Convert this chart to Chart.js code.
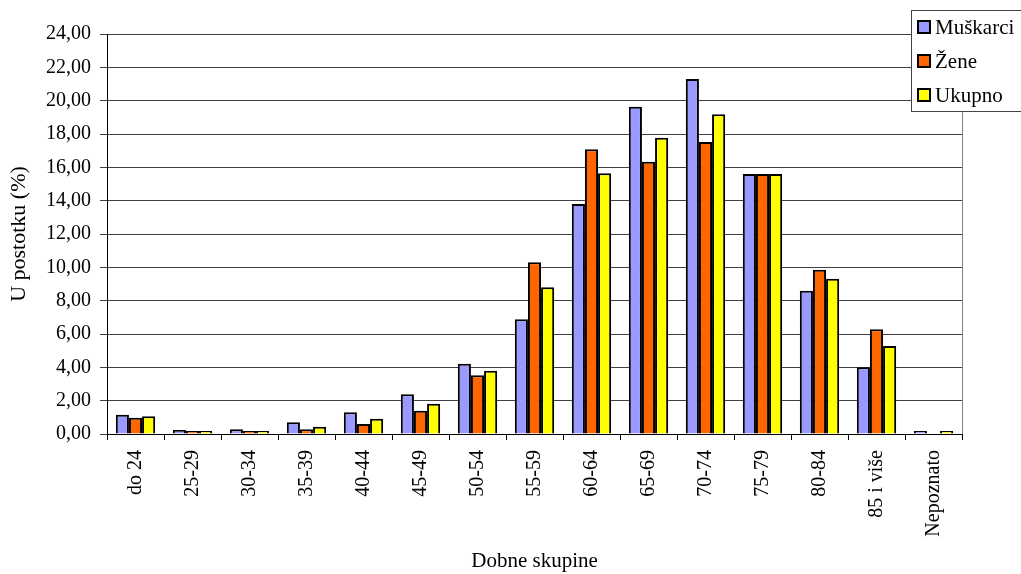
<!DOCTYPE html>
<html lang="hr">
<head>
<meta charset="UTF-8">
<title>Dobne skupine</title>
<script src="https://cdn.jsdelivr.net/npm/chart.js@4/dist/chart.umd.min.js"></script>
<style>
  html, body { margin: 0; padding: 0; background: #fff; }
  .box { position: relative; width: 1021px; height: 574px; }
</style>
</head>
<body>
<div class="box"><canvas id="c" width="1021" height="574"></canvas></div>
<script>
// Podaci (u postotku)
const categories = ['do 24', '25-29', '30-34', '35-39', '40-44', '45-49', '50-54', '55-59',
                    '60-64', '65-69', '70-74', '75-79', '80-84', '85 i više', 'Nepoznato'];
const muskarci = [1.16, 0.24, 0.28, 0.70, 1.30, 2.38, 4.22, 6.88, 13.80, 19.64, 21.30, 15.60, 8.60, 4.00, 0.08];
const zene     = [0.98, 0.12, 0.08, 0.28, 0.60, 1.40, 3.52, 10.30, 17.08, 16.34, 17.52, 15.60, 9.86, 6.28, null];
const ukupno   = [1.06, 0.18, 0.15, 0.44, 0.92, 1.82, 3.80, 8.80, 15.64, 17.78, 19.18, 15.60, 9.32, 5.28, 0.06];
const yTicks   = [0, 2, 4, 6, 8, 10, 12, 14, 16, 18, 20, 22, 24];

const FONT = "'Liberation Serif', 'Times New Roman', serif";

const legendBox = {
  id: 'legendBox',
  afterDraw(chart) {
    const ctx = chart.ctx;
    const a = chart.chartArea;
    ctx.save();
    // desni rub podrucja crtanja
    ctx.strokeStyle = '#808080';
    ctx.lineWidth = 1;
    ctx.beginPath();
    ctx.moveTo(a.right + 0.5, a.top);
    ctx.lineTo(a.right + 0.5, a.bottom);
    ctx.stroke();
    // legenda
    ctx.fillStyle = '#fff';
    ctx.fillRect(911, 10, 112, 101);
    ctx.strokeStyle = '#444';
    ctx.strokeRect(911.5, 10.5, 112, 101);
    chart.data.datasets.forEach((ds, i) => {
      const y = 27 + i * 34;
      ctx.fillStyle = ds.backgroundColor;
      ctx.fillRect(918, y - 6, 12, 12);
      ctx.strokeStyle = '#000';
      ctx.lineWidth = 2;
      ctx.strokeRect(918, y - 6, 12, 12);
      ctx.fillStyle = '#000';
      ctx.font = '21px ' + FONT;
      ctx.textBaseline = 'middle';
      ctx.fillText(ds.label, 935, y + 1);
    });
    ctx.restore();
  }
};

new Chart(document.getElementById('c'), {
  type: 'bar',
  plugins: [legendBox],
  data: {
    labels: categories,
    datasets: [
      { label: 'Muškarci', data: muskarci, backgroundColor: '#9999FF', borderColor: '#000', borderWidth: 2 },
      { label: 'Žene',     data: zene,     backgroundColor: '#FF6600', borderColor: '#000', borderWidth: 2 },
      { label: 'Ukupno',   data: ukupno,   backgroundColor: '#FFFF00', borderColor: '#000', borderWidth: 2 }
    ]
  },
  options: {
    responsive: false,
    animation: false,
    layout: { padding: { left: 0, right: 59, top: 34, bottom: 0 } },
    datasets: { bar: { categoryPercentage: 0.69, barPercentage: 1.0, borderSkipped: 'bottom', minBarLength: 3 } },
    plugins: { legend: { display: false }, tooltip: { enabled: false } },
    scales: {
      x: {
        offset: true,
        afterFit: (s) => { s.height = 140; },
        grid: { offset: true, drawOnChartArea: false, color: '#000', tickLength: 6 },
        border: { color: '#000', width: 1 },
        ticks: { minRotation: 90, maxRotation: 90, autoSkip: false, color: '#000', padding: 10,
                 font: { family: FONT, size: 20 } },
        title: { display: true, text: 'Dobne skupine', color: '#000', padding: { top: 0, bottom: 0 },
                 font: { family: FONT, size: 21 } }
      },
      y: {
        min: 0, max: 24,
        afterFit: (s) => { s.width = 107; },
        afterBuildTicks: (s) => { s.ticks = yTicks.map(v => ({ value: v })); },
        grid: { color: '#404040', lineWidth: 1, tickLength: 7 },
        border: { color: '#000', width: 1 },
        ticks: { color: '#000', padding: 9, font: { family: FONT, size: 20 },
                 callback: (v) => Number(v).toFixed(2).replace('.', ',') },
        title: { display: true, text: 'U postotku (%)', color: '#000', padding: { top: 6, bottom: 0 },
                 font: { family: FONT, size: 22 } }
      }
    }
  }
});
</script>
</body>
</html>
